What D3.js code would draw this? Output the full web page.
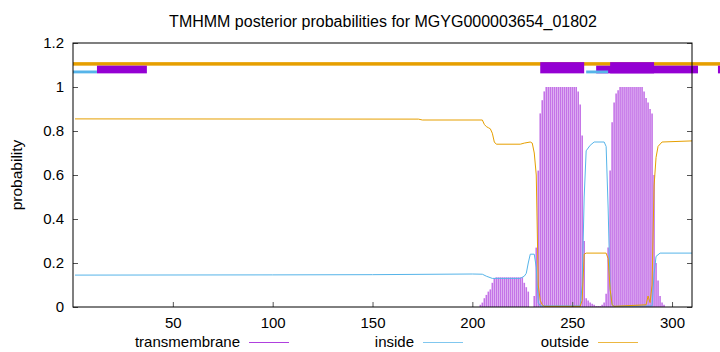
<!DOCTYPE html>
<html>
<head>
<meta charset="utf-8">
<script src="https://cdn.jsdelivr.net/npm/d3@7"></script>
<style>
    body { margin: 0; background: #fff; }
    text { font-family: "Liberation Sans", Arial, sans-serif; }
</style>
</head>
<body>
<div id="my_dataviz"></div>
<script>

    // axis ticks
    var xTicks = [50, 100, 150, 200, 250, 300];
    var yTicks = [0, 0.2, 0.4, 0.6, 0.8, 1, 1.2];

    // transmembrane posterior, one impulse per residue starting at tmFirst
    var tmFirst = 204;
    var tmValues = [
        0.01, 0.02, 0.04, 0.055, 0.07, 0.08, 0.11, 0.13,                  // 204-211
        0.135, 0.135, 0.135, 0.135, 0.135, 0.135, 0.135, 0.135,           // 212-219
        0.135, 0.135, 0.135, 0.135, 0.135, 0.135,                         // 220-225
        0.11, 0.09, 0.07, 0, 0, 0.05, 0.27, 0.62, 0.88, 0.94, 0.98,      // 226-236
        1, 1, 1, 1, 1, 1, 1, 1, 1, 1, 1, 1, 1, 1, 1, 1,                   // 237-252
        0.98, 0.92, 0.78, 0.30, 0.04, 0.03, 0.02, 0.015, 0.01,           // 253-261
        0.005, 0.005, 0.005, 0.01, 0.02, 0.06,                           // 262-267
        0.27, 0.62, 0.84, 0.93, 0.97, 0.985,                             // 268-273
        1, 1, 1, 1, 1, 1, 1, 1, 1, 1, 1, 1,                               // 274-285
        0.98, 0.95, 0.93, 0.9, 0.88, 0.6, 0.2, 0.12, 0.05, 0.02, 0.01    // 286-296
    ];

    // inside posterior (residue, value)
    var insideRes = [1, 100, 150, 200, 205, 207, 210, 224, 226, 227, 228, 229, 231, 232, 233, 234,
        254, 255, 256, 257, 259, 261, 266, 267, 268, 269, 270, 271, 290, 291, 292, 294, 310];
    var insideVal = [0.145, 0.146, 0.147, 0.15, 0.149, 0.14, 0.13, 0.13, 0.14, 0.153, 0.2, 0.24, 0.24, 0.18, 0.02, 0.005,
        0.005, 0.1, 0.5, 0.71, 0.735, 0.75, 0.75, 0.73, 0.45, 0.08, 0.01, 0.003, 0.005, 0.15, 0.23, 0.245, 0.245];

    // outside posterior (residue, value)
    var outsideRes = [1, 173, 175, 205, 206, 207, 208, 209, 210, 211, 212, 224, 226, 229, 230, 231, 232, 233, 234, 235, 236,
        254, 255, 256, 257, 267, 268, 269, 270, 271, 287, 288, 289, 290, 291, 292, 293, 295, 310];
    var outsideVal = [0.855, 0.854, 0.85, 0.85, 0.83, 0.82, 0.815, 0.81, 0.79, 0.75, 0.74, 0.74, 0.745, 0.75, 0.745, 0.70, 0.6, 0.1, 0.03, 0.01, 0.003,
        0.003, 0.03, 0.24, 0.245, 0.245, 0.22, 0.08, 0.01, 0.003, 0.01, 0.05, 0.02, 0.1, 0.55, 0.68, 0.73, 0.75, 0.755];

    // predicted topology strip on top (residue ranges)
    var topoOutside = [[0, 340]];
    var topoInside = [[0, 12], [257, 268]];
    var topoTmLow = [[12, 37], [262, 313], [323, 340]];
    var topoTmHigh = [[234, 256], [269, 291]];

    var legendNames = ["transmembrane", "inside", "outside"];
    var colTm = "#9400d3", colIn = "#56b4e9", colOut = "#e69f00";

    var W = 720, H = 352;
    var margin = { top: 43, right: 28, bottom: 45, left: 73 },
        width = W - margin.left - margin.right,
        height = H - margin.top - margin.bottom;

    var svg = d3.select("#my_dataviz")
        .append("svg")
        .attr("width", W)
        .attr("height", H);

    var g = svg.append("g")
        .attr("transform", "translate(" + margin.left + "," + margin.top + ")");

    var x = d3.scaleLinear().domain([0, 310]).range([0, width]);
    var y = d3.scaleLinear().domain([0, 1.2]).range([height, 0]);

    // impulses for transmembrane
    g.selectAll("line.tm")
        .data(tmValues)
        .enter()
        .append("line")
        .attr("class", "tm")
        .attr("x1", function (d, i) { return x(tmFirst + i); })
        .attr("x2", function (d, i) { return x(tmFirst + i); })
        .attr("y1", y(0))
        .attr("y2", function (d) { return y(d); })
        .attr("stroke", colTm)
        .attr("stroke-opacity", 0.55)
        .attr("stroke-width", 1.6);

    var line = d3.line()
        .x(function (d) { return x(d[0]); })
        .y(function (d) { return y(d[1]); });

    g.append("path")
        .datum(insideRes.map(function (r, i) { return [r, insideVal[i]]; }))
        .attr("d", line)
        .attr("fill", "none")
        .attr("stroke", colIn)
        .attr("stroke-width", 1);

    g.append("path")
        .datum(outsideRes.map(function (r, i) { return [r, outsideVal[i]]; }))
        .attr("d", line)
        .attr("fill", "none")
        .attr("stroke", colOut)
        .attr("stroke-width", 1);

    // topology strip
    g.selectAll("rect.out")
        .data(topoOutside).enter().append("rect")
        .attr("x", function (d) { return x(d[0]); })
        .attr("width", function (d) { return x(d[1]) - x(d[0]); })
        .attr("y", y(1.113))
        .attr("height", y(1.097) - y(1.113))
        .attr("fill", colOut);

    g.selectAll("rect.tmlow")
        .data(topoTmLow).enter().append("rect")
        .attr("x", function (d) { return x(d[0]); })
        .attr("width", function (d) { return x(d[1]) - x(d[0]); })
        .attr("y", y(1.097))
        .attr("height", y(1.062) - y(1.097))
        .attr("fill", colTm);

    g.selectAll("rect.ins")
        .data(topoInside).enter().append("rect")
        .attr("x", function (d) { return x(d[0]); })
        .attr("width", function (d) { return x(d[1]) - x(d[0]); })
        .attr("y", y(1.075))
        .attr("height", y(1.062) - y(1.075))
        .attr("fill", colIn);

    g.selectAll("rect.tmhigh")
        .data(topoTmHigh).enter().append("rect")
        .attr("x", function (d) { return x(d[0]); })
        .attr("width", function (d) { return x(d[1]) - x(d[0]); })
        .attr("y", y(1.113))
        .attr("height", y(1.062) - y(1.113))
        .attr("fill", colTm);

    // axes, gnuplot style: ticks inside, mirrored
    g.append("g")
        .attr("transform", "translate(0," + height + ")")
        .call(d3.axisBottom(x).tickValues(xTicks).tickSize(-5).tickPadding(10).tickFormat(d3.format("d")))
        .call(function (a) { a.select(".domain").remove(); })
        .selectAll("text").style("font-size", "15px").attr("fill", "#000");

    g.append("g")
        .call(d3.axisLeft(y).tickValues(yTicks).tickSize(-5).tickPadding(9).tickFormat(function (d) { return String(+d.toFixed(1)); }))
        .call(function (a) { a.select(".domain").remove(); })
        .selectAll("text").style("font-size", "15px").attr("fill", "#000");

    g.append("g")
        .attr("transform", "translate(" + width + ",0)")
        .call(d3.axisRight(y).tickValues(yTicks).tickSize(-5).tickFormat(""))
        .call(function (a) { a.select(".domain").remove(); });

    g.selectAll(".tick line").attr("stroke", "#555");

    g.append("rect")
        .attr("width", width)
        .attr("height", height)
        .attr("fill", "none")
        .attr("stroke", "#000")
        .attr("stroke-width", 1);

    // title and labels
    svg.append("text")
        .attr("x", 383)
        .attr("y", 27)
        .attr("text-anchor", "middle")
        .style("font-size", "16px")
        .text("TMHMM posterior probabilities for MGYG000003654_01802");

    svg.append("text")
        .attr("transform", "translate(22," + (margin.top + height / 2) + ")rotate(-90)")
        .attr("text-anchor", "middle")
        .style("font-size", "15.5px")
        .text("probability");

    // legend
    var legEnd = [240, 414, 589];
    var legCols = [colTm, colIn, colOut];
    legendNames.forEach(function (name, i) {
        svg.append("text")
            .attr("x", legEnd[i])
            .attr("y", 347)
            .attr("text-anchor", "end")
            .style("font-size", "15px")
            .text(name);
        svg.append("line")
            .attr("x1", legEnd[i] + 9)
            .attr("x2", legEnd[i] + 49)
            .attr("y1", 342.5)
            .attr("y2", 342.5)
            .attr("stroke", legCols[i])
            .attr("stroke-opacity", 0.75)
            .attr("stroke-width", 1);
    });

</script>
</body>
</html>
